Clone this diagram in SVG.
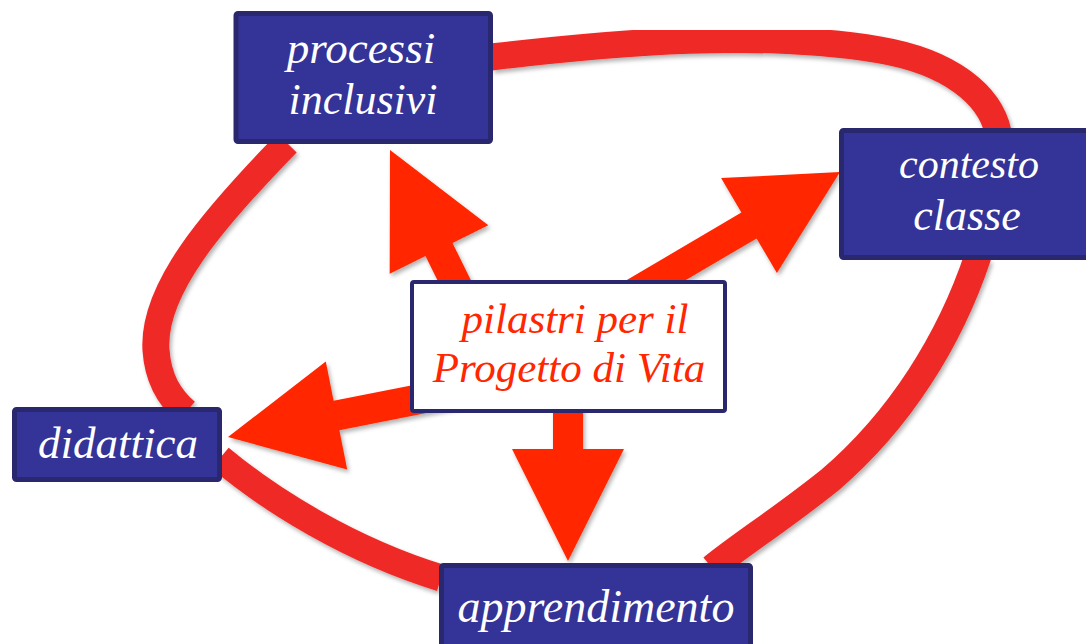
<svg xmlns="http://www.w3.org/2000/svg" width="1086" height="644" viewBox="0 0 1086 644">
<defs>
<filter id="sh" x="-10%" y="-10%" width="130%" height="130%">
<feDropShadow dx="2" dy="3" stdDeviation="2" flood-color="#000" flood-opacity="0.3"/>
</filter>
<style>
.loop{fill:none;stroke:#EF2A27;stroke-width:27;filter:url(#sh)}
.arrow{fill:#FF2600;filter:url(#sh)}
.node rect{fill:#343397;stroke:#29286F;stroke-width:5}
.node text{fill:#FFFFFF;font-family:"Liberation Serif","DejaVu Serif",serif;font-style:italic;text-anchor:middle}
.center rect{fill:#FFFFFF;stroke:#29286F;stroke-width:4}
.center text{fill:#FF2600;font-family:"Liberation Serif","DejaVu Serif",serif;font-style:italic;text-anchor:middle;font-size:43px}
</style>
</defs>
<rect width="1086" height="644" fill="#FFFFFF"/>
<g id="connectors">
<path class="loop" d="M491,57 C620,42 760,30 880,50 C950,62 990,95 998,132"/>
<path class="loop" d="M978,256 C950,340 900,420 830,480 C780,520 740,545 712,568"/>
<path class="loop" d="M441,578 C350,550 270,500 220,458"/>
<path class="loop" d="M287,143 C212,220 152,290 156,350 C158,380 170,398 186,412"/>
<polygon class="arrow" points="390,150 488.3,225.2 452.5,242.9 505.5,350.4 478.5,363.6 425.5,256.1 389.7,273.8"/>
<polygon class="arrow" points="840,172 776.9,272.9 756.6,238.4 592.8,334.7 577.6,308.9 741.4,212.6 721.1,178.1"/>
<polygon class="arrow" points="228,437 347.2,469.5 339.4,430.2 516,395.3 510.2,365.9 333.6,400.8 325.8,361.5"/>
<polygon class="arrow" points="553,380 583,380 583,449 624,449 568,561 512,449 553,449"/>
</g>
<g id="processi" class="node">
<rect x="236" y="13.5" width="254.5" height="128" rx="2"/>
<text x="361" y="63" font-size="45">processi</text>
<text x="363" y="114" font-size="44">inclusivi</text>
</g>
<g id="contesto" class="node">
<rect x="841.5" y="130.5" width="256" height="127" rx="2"/>
<text x="969" y="178" font-size="42">contesto</text>
<text x="967" y="230" font-size="44">classe</text>
</g>
<g id="didattica" class="node">
<rect x="14.5" y="409.5" width="205" height="70" rx="2"/>
<text x="118" y="458" font-size="45">didattica</text>
</g>
<g id="apprendimento" class="node">
<rect x="441.5" y="565.5" width="309" height="90" rx="2"/>
<text x="596" y="622" font-size="46">apprendimento</text>
</g>
<g id="center" class="center">
<rect x="412" y="282" width="313" height="129" rx="2"/>
<text x="575" y="333">pilastri per il</text>
<text x="569" y="382">Progetto di Vita</text>
</g>
</svg>
